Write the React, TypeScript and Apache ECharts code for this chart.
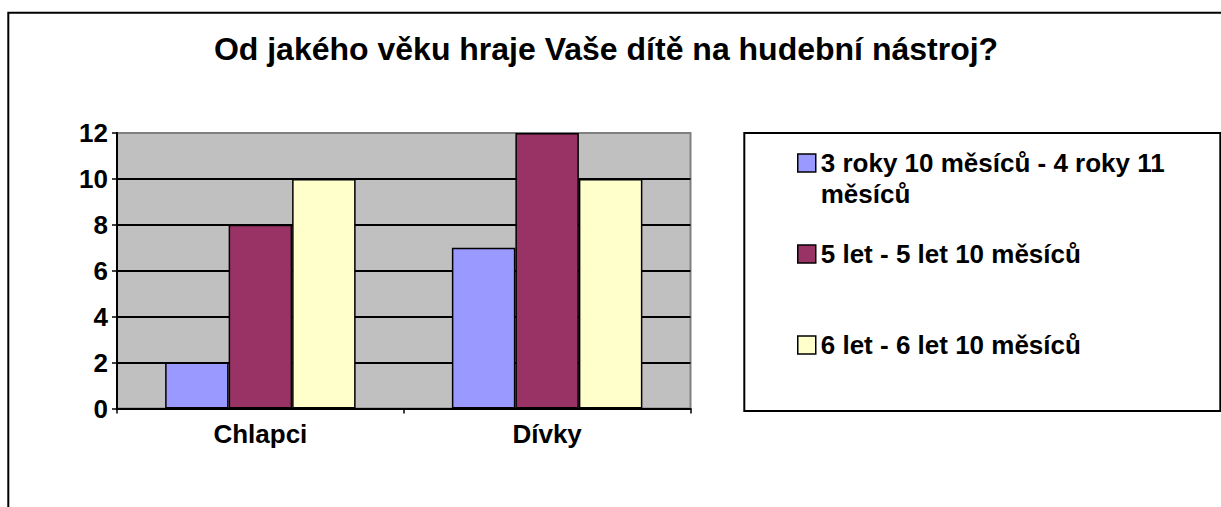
import React, { useEffect, useRef } from "react";
import * as echarts from "echarts";

const titleText = "Od jakého věku hraje Vaše dítě na hudební nástroj?";
const categories = ["Chlapci", "Dívky"];
const seriesNames = [
  "3 roky 10 měsíců - 4 roky 11 měsíců",
  "5 let - 5 let 10 měsíců",
  "6 let - 6 let 10 měsíců",
];
const legendLabels = [
  "\n3 roky 10 měsíců - 4 roky 11\nměsíců",
  "5 let - 5 let 10 měsíců",
  "6 let - 6 let 10 měsíců",
];
const series1 = [2, 7];
const series2 = [8, 12];
const series3 = [10, 10];
const seriesColors = ["#9999FF", "#993366", "#FFFFCC"];
const yMin = 0;
const yMax = 12;
const yInterval = 2;

const FONT = "'Liberation Sans', Arial, sans-serif";

export default function App() {
  const ref = useRef<HTMLDivElement>(null);
  useEffect(() => {
    if (!ref.current) return;
    const chart = echarts.init(ref.current, null, { renderer: "svg" });
    const values = [series1, series2, series3];
    const legendTops = [116.5, 238.5, 329.5];
    const lh = 31;
    const option: any = {
      animation: false,
      backgroundColor: "#ffffff",
      textStyle: { fontFamily: FONT },
      grid: {
        left: 117,
        top: 133,
        right: 530.5,
        bottom: 98.5,
        show: true,
        backgroundColor: "#c0c0c0",
        borderColor: "#808080",
        borderWidth: 2,
      },
      legend: seriesNames.map((name, i) => ({
        data: [name],
        orient: "vertical",
        left: 797,
        top: legendTops[i],
        padding: 0,
        icon: "rect",
        itemWidth: 18,
        itemHeight: 18,
        selectedMode: false,
        formatter: () => legendLabels[i],
        itemStyle: { borderColor: "#000", borderWidth: 1.5 },
        textStyle: {
          fontFamily: FONT,
          fontWeight: "bold",
          fontSize: 26,
          color: "#000",
          lineHeight: lh,
        },
      })),
      xAxis: {
        type: "category",
        data: categories,
        axisLine: { lineStyle: { color: "#000", width: 2 } },
        axisTick: { show: true, length: 5, lineStyle: { color: "#000", width: 1.5 } },
        axisLabel: {
          fontFamily: FONT,
          fontWeight: "bold",
          fontSize: 26,
          lineHeight: 26,
          color: "#000",
          margin: 12,
        },
        splitLine: { show: false },
      },
      yAxis: {
        type: "value",
        min: yMin,
        max: yMax,
        interval: yInterval,
        axisLine: { show: true, lineStyle: { color: "#000", width: 2 } },
        axisTick: { show: true, length: 5, lineStyle: { color: "#000", width: 1.5 } },
        axisLabel: {
          fontFamily: FONT,
          fontWeight: "bold",
          fontSize: 26,
          color: "#000",
          margin: 9,
        },
        splitLine: {
          show: true,
          showMaxLine: false,
          showMinLine: false,
          lineStyle: { color: "#000", width: 2 },
        },
      },
      series: seriesNames.map((name, i) => ({
        name,
        type: "bar",
        data: values[i],
        barWidth: 63.5,
        barGap: "0%",
        itemStyle: {
          color: seriesColors[i],
          borderColor: "#000",
          borderWidth: 1.5,
        },
        emphasis: { disabled: true },
      })),
      graphic: [
        {
          type: "rect",
          silent: true,
          shape: { x: 8.3, y: 12.7, width: 1400, height: 700 },
          style: { fill: "none", stroke: "#000", lineWidth: 2 },
          z: -10,
        },
        {
          type: "rect",
          silent: true,
          shape: { x: 744.3, y: 133, width: 476, height: 278 },
          style: { fill: "none", stroke: "#000", lineWidth: 2 },
        },
        {
          type: "text",
          silent: true,
          x: 606,
          y: 49,
          style: {
            text: titleText,
            align: "center",
            verticalAlign: "middle",
            font: `bold 32px ${FONT}`,
            fill: "#000",
          },
        },
      ],
    };
    chart.setOption(option);
    return () => chart.dispose();
  }, []);
  return (
    <div
      ref={ref}
      style={{ position: "absolute", left: 0, top: 0, width: 1221, height: 507, background: "#fff" }}
    />
  );
}
